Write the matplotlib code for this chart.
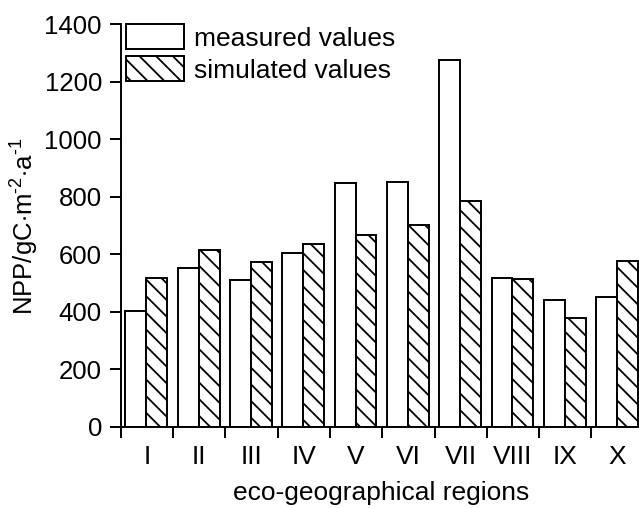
import numpy as np
import matplotlib
matplotlib.use('Agg')
import matplotlib.pyplot as plt
#--------------------------------------------------------------------------------------------------------------------
# Data
#--------------------------------------------------------------------------------------------------------------------
regions   = ['I', 'II', 'III', 'IV', 'V', 'VI', 'VII', 'VIII', 'IX', 'X']
measured  = [402, 551, 509, 604, 846, 851, 1275, 516, 440, 450]
simulated = [518, 613, 573, 636, 666, 701,  785, 513, 378, 576]
yticks    = [0, 200, 400, 600, 800, 1000, 1200, 1400]
#--------------------------------------------------------------------------------------------------------------------
# Style
#--------------------------------------------------------------------------------------------------------------------
plt.rcParams['font.family'] = ['Liberation Sans', 'DejaVu Sans']
plt.rcParams['mathtext.fontset'] = 'custom'
plt.rcParams['mathtext.rm'] = 'Liberation Sans'
plt.rcParams['mathtext.it'] = 'Liberation Sans'
plt.rcParams['hatch.linewidth'] = 1.3
lw = 1.4
#--------------------------------------------------------------------------------------------------------------------
# Plot
#--------------------------------------------------------------------------------------------------------------------
W, H = 639, 508
fig = plt.figure(figsize=(W/100, H/100), dpi=100)
ax = fig.add_axes([120.7/W, 1-426.7/H, 523/W, 402.7/H])

x = np.arange(len(regions))
bw = 0.4
ax.bar(x-0.2-0.01, measured, bw, color='white', edgecolor='black', linewidth=lw, label='measured values')
ax.bar(x+0.2-0.01, simulated, bw, color='white', edgecolor='black', linewidth=lw, hatch='\\\\',
       label='simulated values')

ax.set_xlim(-0.5, len(regions)-0.5)
ax.set_ylim(0, 1400)
ax.set_yticks(yticks)
ax.set_xticks(np.arange(len(regions)+1)-0.5)
ax.set_xticklabels([])
ax.set_xticks(x, minor=True)
ax.set_xticklabels(regions, minor=True)
ax.tick_params(axis='x', which='major', direction='out', length=8, width=lw)
ax.tick_params(axis='x', which='minor', length=0, pad=13, labelsize=19)
ax.tick_params(axis='y', direction='out', length=8, width=lw, pad=5.5, labelsize=18.5)
for s in ['top', 'right']:
    ax.spines[s].set_visible(False)
for s in ['left', 'bottom']:
    ax.spines[s].set_linewidth(lw)

leg = ax.legend(loc='upper left', bbox_to_anchor=(5/523, 1.0), frameon=False, fontsize=19,
                borderpad=0, borderaxespad=0, handlelength=2.2, handleheight=1.1,
                handletextpad=0.4, labelspacing=0.2)

fig.text(25/W, 1-226/H, 'NPP/gC$\\cdot$m$^{\\text{-2}}$$\\cdot$a$^{\\text{-1}}$', rotation=90,
         ha='center', va='center', fontsize=18.5)
fig.text(381/W, 1-493/H, 'eco-geographical regions', ha='center', va='center', fontsize=19)

plt.savefig('out.png', dpi=100)
